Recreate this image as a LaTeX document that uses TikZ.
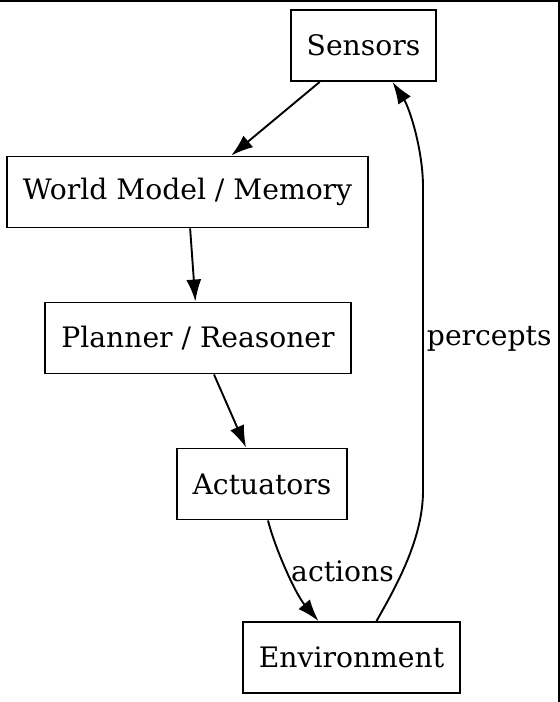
\documentclass[tikz,border=0pt]{standalone}
\usepackage{fontspec}
\setmainfont{DejaVu Serif}
\usepackage{tikz}
\usetikzlibrary{arrows.meta}
\tikzset{
  box_/.style  = {shape=rectangle, draw, align=center, minimum height=35.5pt, inner xsep=8pt},
  edge_/.style = {draw, -{Latex[length=11pt,width=7.5pt]}},
  lbl_/.style  = {inner sep=1.5pt}
}

\begin{document}
\begin{tikzpicture}
  [
    x = 0.5pt,
    y = 0.5pt,
    line width        = 0.95pt,
    every node/.style = {font=\fontsize{14.1}{16}\selectfont}
  ]
  \useasboundingbox (0,0) rectangle (560,-702);
  \fill (0,0) rectangle (560,-2);
  \fill (558,0) rectangle (560,-702);

  \node [box_] (sens) at (363.5,-45.5)  {Sensors};
  \node [box_] (wm)   at (187.5,-192)   {World Model / Memory};
  \node [box_] (plan) at (198,-338)     {Planner / Reasoner};
  \node [box_] (act)  at (262,-484)     {Actuators};
  \node [box_] (env)  at (351.5,-657.5) {Environment};

  \draw [edge_] (sens) -- (wm);
  \draw [edge_] (wm) -- (plan);
  \draw [edge_] (plan) -- (act);
  \draw [edge_] ([xshift=3pt]act.south) .. controls +(7,-28) and +(-23,27) ..
    node [lbl_, right] {actions} ([xshift=-16.5pt]env.north);
  \draw [edge_] ([xshift=12.5pt]env.north) .. controls +(18,32) and +(0,-49) .. (423,-491)
    -- node [lbl_, right] {percepts} (423,-187)
    .. controls +(0,37) and +(17,-26) .. ([xshift=14.5pt]sens.south);
\end{tikzpicture}
\end{document}
